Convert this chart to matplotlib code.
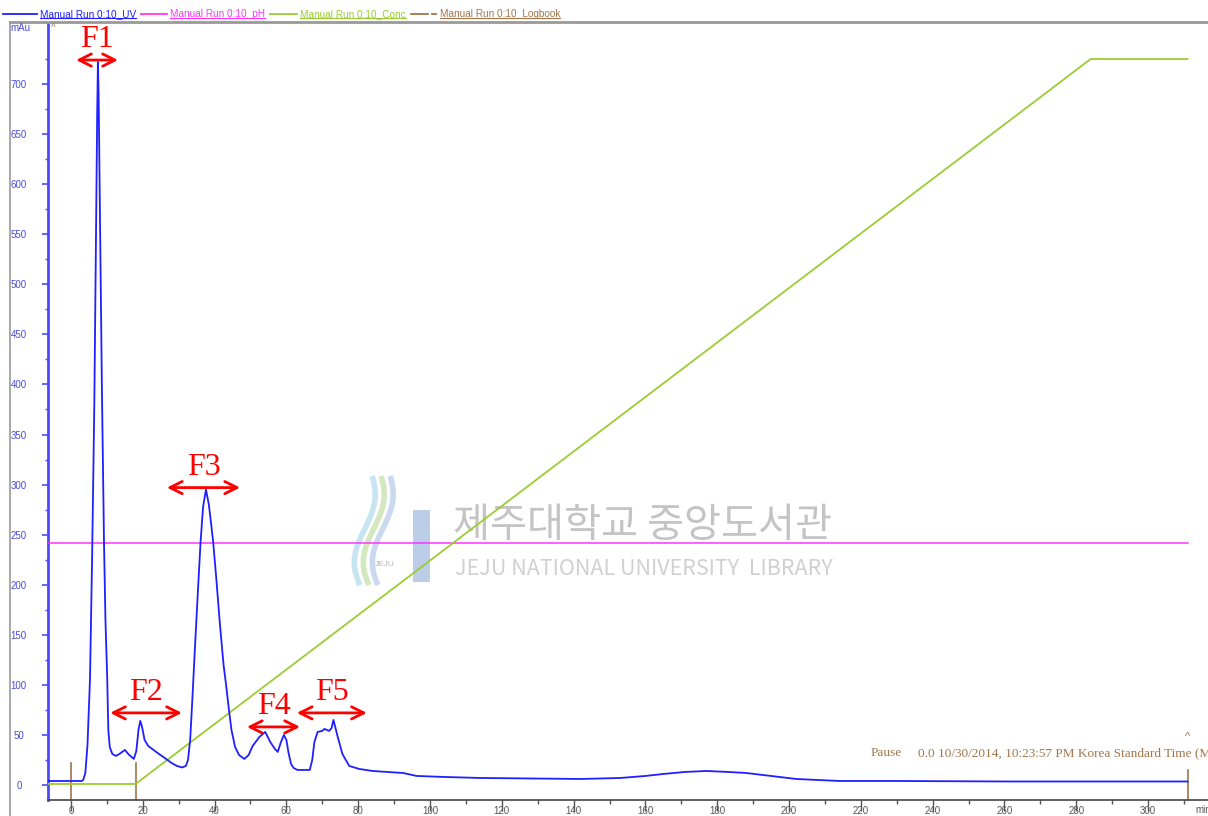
"""
Cromatograma (UV, pH, Conc y Logbook) con las fracciones F1-F5 marcadas.
"""
import matplotlib
matplotlib.use('Agg')
import matplotlib.pyplot as plt
from matplotlib.lines import Line2D
from matplotlib.patches import Rectangle, PathPatch
from matplotlib.path import Path

W, H = 1208, 816

uv_t = [-6.4, 0.0, 3.0, 3.4, 4.0, 4.6, 5.3, 5.9, 6.5, 7.0, 7.3, 7.5, 7.7, 8.1,
        8.6, 9.2, 9.6, 10.1, 10.4, 10.8, 11.5, 12.5, 13.5, 15.0, 16.2, 17.5,
        18.2, 18.8, 19.3, 19.8, 20.5, 21.5, 23.0, 24.5, 26.5, 28.0, 29.5, 31.0,
        32.0, 32.6, 33.2, 33.8, 34.5, 35.3, 36.1, 36.8, 37.6, 38.4, 39.0, 39.6,
        40.5, 41.5, 42.5, 43.2, 44.0, 44.7, 45.7, 46.8, 48.3, 49.5, 50.6, 52.5,
        54.1, 55.5, 56.8, 57.6, 58.4, 59.3, 60.0, 60.6, 61.3, 62.0, 63.1, 66.5,
        67.2, 67.8, 68.7, 70.0, 70.6, 71.9, 72.6, 73.1, 73.6, 74.3, 75.6, 77.5,
        80.3, 84.0, 88.0, 92.5, 96.3, 104.0, 114.0, 128.0, 142.0, 153.0, 160.0,
        165.0, 171.0, 177.0, 183.0, 188.0, 195.0, 202.0, 214.0, 230.0, 260.0,
        290.0, 311.0]
uv_mau = [4, 4, 4, 5, 12, 40, 106, 230, 380, 560, 670, 722, 690, 560,
          400, 242, 165, 106, 55, 38, 31, 29, 31, 35, 30, 26,
          34, 55, 64, 58, 45, 39, 35, 31, 26, 22, 19, 17.5,
          19, 25, 45, 85, 135, 190, 243, 278, 295, 280, 262, 243,
          205, 160, 120, 100, 75, 55, 38, 30, 26, 30, 39, 48,
          53, 43, 36, 33, 42, 50, 45, 32, 21, 17, 15, 15,
          25, 43, 53, 54, 56, 54, 57, 65, 58, 48, 31, 19,
          16, 14, 13, 12, 9, 8, 7, 6.5, 6, 7, 9,
          11, 13, 14, 13, 12, 9, 6, 4, 4, 3.5,
          3.5, 3.5]

conc_t = [-6.4, 18.0, 284.0, 311.0]
conc_val = [1, 1, 725, 725]

ph_t = [-6.4, 311.0]
ph_val = [242, 242]

logbook_t = [0.0, 18.0, 311.0]

fracciones = ['F1', 'F2', 'F3', 'F4', 'F5']
frac_inicio = [1.4, 10.9, 26.7, 49.0, 62.9]
frac_fin = [13.1, 30.9, 47.1, 63.8, 82.4]
frac_nivel = [724, 72, 297, 58, 72]

leyenda = ['Manual Run 0:10_UV', 'Manual Run 0:10_pH',
           'Manual Run 0:10_Conc', 'Manual Run 0:10_Logbook']

# --- Colores ---
AZUL = '#1f1fff'
ROSA = '#ff33ff'
VERDE = '#9acd32'
MARRON = '#a0764a'
ROJO = '#ff0000'
GRIS = '#555555'

plt.rcParams['font.family'] = ['Liberation Sans', 'DejaVu Sans']

fig = plt.figure(figsize=(W / 100, H / 100), dpi=100)
ax = fig.add_axes([48 / W, 16 / H, (W - 48) / W, (800 - 24) / H])
ax.set_xlim(-6.4, 316.7)
ax.set_ylim(-15, 760)

# --- Marca de agua (debajo de las trazas) ---
wm_gris = '#c4c4c4'
ax.text(453 / W, 1 - 526 / H, '제주대학교 중앙도서관', color=wm_gris, fontsize=29,
        family=['Noto Sans CJK KR', 'DejaVu Sans'], weight='medium',
        va='center', transform=fig.transFigure, zorder=1)
ax.text(455 / W, 1 - 569 / H, 'JEJU NATIONAL UNIVERSITY  LIBRARY', color='#d0d0d0',
        fontsize=15.5, family=['Noto Sans CJK KR', 'DejaVu Sans'], va='center',
        transform=fig.transFigure, zorder=1)
ax.add_patch(Rectangle((413 / W, 1 - 582 / H), 17 / W, 72 / H,
                       transform=fig.transFigure, facecolor='#bccde8',
                       edgecolor='none', zorder=1, clip_on=False))
for col, dx in [('#c6e4f2', 0), ('#d4e8c0', 9), ('#cbd9ef', 18)]:
    verts = [((360 + dx) / W, 1 - 585 / H), ((338 + dx) / W, 1 - 540 / H),
             ((388 + dx) / W, 1 - 522 / H), ((372 + dx) / W, 1 - 476 / H)]
    p = Path(verts, [Path.MOVETO, Path.CURVE4, Path.CURVE4, Path.CURVE4])
    ax.add_patch(PathPatch(p, transform=fig.transFigure, facecolor='none',
                           edgecolor=col, lw=4, zorder=1, clip_on=False))
ax.text(385 / W, 1 - 565 / H, 'JEJU', color='#b8b8b8', fontsize=6, ha='center',
        va='center', transform=fig.transFigure, zorder=1)

# --- Trazas ---
ax.plot(ph_t, ph_val, color=ROSA, lw=1.1, zorder=3)
ax.plot(conc_t, conc_val, color=VERDE, lw=1.3, zorder=3)
ax.plot(uv_t, uv_mau, color=AZUL, lw=1.3, zorder=4)

for t in logbook_t[:2]:
    ax.plot([t, t], [22, -15], color=MARRON, lw=1.2, clip_on=False, zorder=2)
ax.plot([logbook_t[2]] * 2, [15, -15], color=MARRON, lw=1.2, clip_on=False)
ax.text(logbook_t[2], 48, '^', color=MARRON, fontsize=8, ha='center', va='center')
fig.text(53 / W, 1 - 28 / H, '^', color=MARRON, fontsize=7, ha='center',
         va='center', zorder=10)

ax.text(222.6, 32, 'Pause', color=MARRON, fontsize=9.5, family='Liberation Serif',
        va='center')
ax.text(236, 32, '0.0 10/30/2014, 10:23:57 PM Korea Standard Time (Manual)',
        color=MARRON, fontsize=9.5, family='Liberation Serif', va='center',
        clip_on=False)

# --- Fracciones ---
for nombre, a, b, y in zip(fracciones, frac_inicio, frac_fin, frac_nivel):
    ax.annotate('', xy=(a, y), xytext=(b, y),
                arrowprops=dict(arrowstyle='<->', color=ROJO, lw=2,
                                mutation_scale=22, shrinkA=0, shrinkB=0),
                zorder=6)
    ax.text((a + b) / 2, y + 6, nombre, color=ROJO, fontsize=23,
            family='Liberation Serif', ha='center', va='bottom', zorder=6)

# --- Ejes ---
for s in ['top', 'right']:
    ax.spines[s].set_visible(False)
ax.spines['left'].set_color('#4a4aff')
ax.spines['left'].set_linewidth(2)
ax.spines['bottom'].set_color('#444444')
ax.spines['bottom'].set_linewidth(1.2)

ax.set_yticks(range(0, 701, 50))
ax.set_yticks(range(25, 751, 50), minor=True)
ax.set_xticks(range(0, 301, 20))
ax.set_xticks(range(0, 311, 10), minor=True)
ax.tick_params(axis='y', which='major', length=4, width=1.2, colors='#4a4aff',
               labelsize=7, pad=17, labelcolor='#4a4ae0')
ax.tick_params(axis='y', which='minor', length=2, width=1, colors='#4a4aff')
ax.tick_params(axis='x', which='major', length=8, width=1, colors=GRIS,
               labelsize=7, pad=-4)
ax.tick_params(axis='x', which='minor', length=3, width=1, colors=GRIS)
for lab in ax.get_yticklabels():
    lab.set_horizontalalignment('center')

fig.text(10 / W, 1 - 28 / H, 'mAu', color='#4a4ae0', fontsize=7, va='center')
fig.text(1195 / W, 1 - 810 / H, 'min', color=GRIS, fontsize=7, va='center')

# --- Marco exterior ---
fig.add_artist(Line2D([10 / W, 1], [1 - 22 / H] * 2, color='#999999', lw=2))
fig.add_artist(Line2D([10 / W] * 2, [0, 1 - 22 / H], color='#999999', lw=1.2))

# --- Leyenda superior ---
ley_y = 1 - 14 / H
ley_lineas = [(3, 37), (141, 167), (270, 297), (411, 428)]
ley_texto_x = [40, 170, 300, 440]
ley_colores = [AZUL, ROSA, VERDE, MARRON]
textos = []
for (x0, x1), xt, c, lab in zip(ley_lineas, ley_texto_x, ley_colores, leyenda):
    fig.add_artist(Line2D([x0 / W, x1 / W], [ley_y] * 2, color=c, lw=1.3))
    textos.append(fig.text(xt / W, ley_y, lab, color=c, fontsize=7.2, va='center'))
fig.add_artist(Line2D([432 / W, 436 / W], [ley_y] * 2, color=MARRON, lw=1.3))

fig.canvas.draw()
r = fig.canvas.get_renderer()
for t, c in zip(textos, ley_colores):
    bb = t.get_window_extent(r).transformed(fig.transFigure.inverted())
    fig.add_artist(Line2D([bb.x0, bb.x1], [bb.y0 + 1 / H] * 2, color=c, lw=0.8))

fig.savefig('out.png', dpi=100)
